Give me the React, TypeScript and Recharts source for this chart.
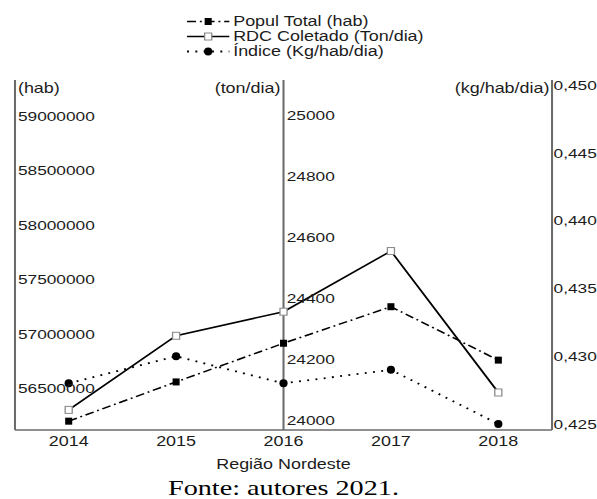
import React from "react";
import { ComposedChart, Line, XAxis, YAxis, ReferenceLine, Legend, Label } from "recharts";

// values
const YEARS = ["2014", "2015", "2016", "2017", "2018"];
const POPUL = [56200000, 56560000, 56915000, 57250000, 56760000];
const RDC = [24033, 24276, 24355, 24554, 24090];
const INDICE = [0.428, 0.43, 0.428, 0.429, 0.425];

const HAB_TICKS = [56500000, 57000000, 57500000, 58000000, 58500000, 59000000];
const TON_TICKS = [24000, 24200, 24400, 24600, 24800, 25000];
const KG_TICKS = [0.425, 0.43, 0.435, 0.44, 0.445, 0.45];

const HAB_DOMAIN = [56119000, 59330000];
const TON_DOMAIN = [23967, 25115];
const KG_DOMAIN = [0.42456, 0.45037];

const DATA = YEARS.map((year, i) => ({
  year,
  popul: POPUL[i],
  rdc: RDC[i],
  indice: INDICE[i],
}));

// the source picture is stretched sideways, so the chart is drawn narrow and scaled
const W = 466;
const H = 499;
const STRETCH = 597 / W;
const MARGIN = { top: 80, right: 0, bottom: 0, left: 11.7 };
const HAB_AXIS_W = 60;
const RIGHT_AXIS_W = 35.1;
const X_AXIS_H = 69;
const PLOT_W = W - MARGIN.left - MARGIN.right - RIGHT_AXIS_W;
const X_PAD = PLOT_W / 10; // years sit in the middle of equal slots
// ton/dia axis sits on the 2016 category; recharts stacks it after the hab axis
const MID_SHIFT = PLOT_W / 2 - HAB_AXIS_W;

const AXIS = "#6b6b6b";
const INK = "#1c1c1c";
const FONT = '"Liberation Sans", Arial, sans-serif';

const SERIES = [
  { key: "popul", name: "Popul Total (hab)", axis: "hab", dash: "7 3 1.5 3", width: 1.5, marker: "square" },
  { key: "rdc", name: "RDC Coletado (Ton/dia)", axis: "ton", dash: undefined, width: 1.5, marker: "open" },
  { key: "indice", name: "Índice (Kg/hab/dia)", axis: "kg", dash: "1.5 5", width: 1.8, marker: "circle" },
];

function Marker({ kind, cx, cy }: { kind: string; cx: number; cy: number }) {
  if (cx == null || cy == null) return null;
  if (kind === "circle") return <ellipse cx={cx} cy={cy} rx={3.2} ry={4} fill="#000" />;
  if (kind === "open")
    return (
      <rect x={cx - 2.75} y={cy - 3.5} width={5.5} height={7} fill="#fff" stroke="#8a8a8a" strokeWidth={1} />
    );
  return <rect x={cx - 2.75} y={cy - 3.5} width={5.5} height={7} fill="#000" />;
}

const renderLegend = (props: any) => (
  <div style={{ fontFamily: FONT, fontSize: 14, color: INK, lineHeight: "15px", whiteSpace: "nowrap" }}>
    {(props.payload || []).map((entry: any) => {
      const s = SERIES.find((x) => x.key === entry.dataKey) || SERIES[0];
      return (
        <div key={s.key} style={{ display: "flex", alignItems: "center", height: 15 }}>
          <svg width={33} height={15} style={{ overflow: "visible" }}>
            <line x1={0} x2={33} y1={7.5} y2={7.5} stroke="#000" strokeWidth={s.width} strokeDasharray={s.dash} />
            <Marker kind={s.marker} cx={16.5} cy={7.5} />
          </svg>
          <span style={{ marginLeft: 3 }}>{s.name}</span>
        </div>
      );
    })}
  </div>
);

const unitText = { fill: INK, fontSize: 14, fontFamily: FONT };

const MidTick = (props: any) => (
  <text x={props.x + MID_SHIFT} y={props.y} dy="0.355em" textAnchor="start" {...unitText} fontSize={13.5}>
    {props.payload.value}
  </text>
);

export default function App() {
  return (
    <div
      style={{
        position: "absolute",
        left: 0,
        top: 0,
        width: W,
        height: H,
        transform: `scaleX(${STRETCH})`,
        transformOrigin: "0 0",
        fontFamily: FONT,
      }}
    >
      <ComposedChart width={W} height={H} data={DATA} margin={MARGIN} style={{ overflow: "visible" }}>
        <XAxis
          dataKey="year"
          height={X_AXIS_H}
          interval={0}
          padding={{ left: X_PAD, right: X_PAD }}
          tickLine={false}
          tickSize={0}
          tickMargin={6}
          axisLine={{ stroke: AXIS, strokeWidth: 1.5 }}
          tick={{ fill: INK, fontSize: 14, fontFamily: FONT }}
        >
          <Label value="Região Nordeste" position="insideTop" offset={29} fill={INK} fontSize={14} fontFamily={FONT} />
        </XAxis>
        <YAxis
          yAxisId="hab"
          orientation="left"
          mirror
          width={HAB_AXIS_W}
          type="number"
          domain={HAB_DOMAIN}
          ticks={HAB_TICKS}
          allowDataOverflow
          interval={0}
          tickLine={false}
          tickSize={0}
          tickMargin={2.3}
          axisLine={{ stroke: AXIS, strokeWidth: 1.6 }}
          tick={{ fill: INK, fontSize: 13.5, fontFamily: FONT }}
        >
          <Label
            content={(p: any) => (
              <text x={p.viewBox.x + 2.3} y={p.viewBox.y + 8} dy="0.355em" textAnchor="start" {...unitText}>
                (hab)
              </text>
            )}
          />
        </YAxis>
        <YAxis
          yAxisId="ton"
          orientation="left"
          mirror
          width={60}
          type="number"
          domain={TON_DOMAIN}
          ticks={TON_TICKS}
          allowDataOverflow
          interval={0}
          axisLine={false}
          tickLine={false}
          tickSize={0}
          tickMargin={2.5}
          tick={<MidTick />}
        >
          <Label
            content={(p: any) => (
              <text x={p.viewBox.x + MID_SHIFT - 2.4} y={p.viewBox.y + 8} dy="0.355em" textAnchor="end" {...unitText}>
                (ton/dia)
              </text>
            )}
          />
        </YAxis>
        <YAxis
          yAxisId="kg"
          orientation="right"
          width={RIGHT_AXIS_W}
          type="number"
          domain={KG_DOMAIN}
          ticks={KG_TICKS}
          allowDataOverflow
          interval={0}
          tickLine={false}
          tickSize={0}
          tickMargin={1.2}
          axisLine={{ stroke: AXIS, strokeWidth: 1.6 }}
          tick={{ fill: INK, fontSize: 13.5, fontFamily: FONT }}
          tickFormatter={(v: number) => v.toFixed(3).replace(".", ",")}
        >
          <Label
            content={(p: any) => (
              <text x={p.viewBox.x - 2} y={p.viewBox.y + 8} dy="0.355em" textAnchor="end" {...unitText}>
                (kg/hab/dia)
              </text>
            )}
          />
        </YAxis>
        {/* ton/dia axis line on 2016 */}
        <ReferenceLine x="2016" yAxisId="hab" stroke={AXIS} strokeWidth={1.6} />
        <Legend
          layout="vertical"
          align="center"
          verticalAlign="middle"
          content={renderLegend}
          wrapperStyle={{ top: 13.5, left: 146, width: "auto", height: "auto" }}
        />
        {SERIES.map((s) => (
          <Line
            key={s.key}
            yAxisId={s.axis}
            dataKey={s.key}
            name={s.name}
            type="linear"
            stroke="#000"
            strokeWidth={s.width}
            strokeDasharray={s.dash}
            dot={(p: any) => <Marker key={`${s.key}-${p.index}`} kind={s.marker} cx={p.cx} cy={p.cy} />}
            activeDot={false}
            isAnimationActive={false}
          />
        ))}
      </ComposedChart>
      <div
        style={{
          position: "absolute",
          left: MARGIN.left,
          width: PLOT_W,
          top: 481,
          height: 18,
          overflow: "hidden",
        }}
      >
        <div
          style={{
            marginTop: -4,
            textAlign: "center",
            font: '22px/22px "Liberation Serif", "Times New Roman", serif',
            color: "#000",
            whiteSpace: "nowrap",
          }}
        >
          Fonte: autores 2021.
        </div>
      </div>
    </div>
  );
}
